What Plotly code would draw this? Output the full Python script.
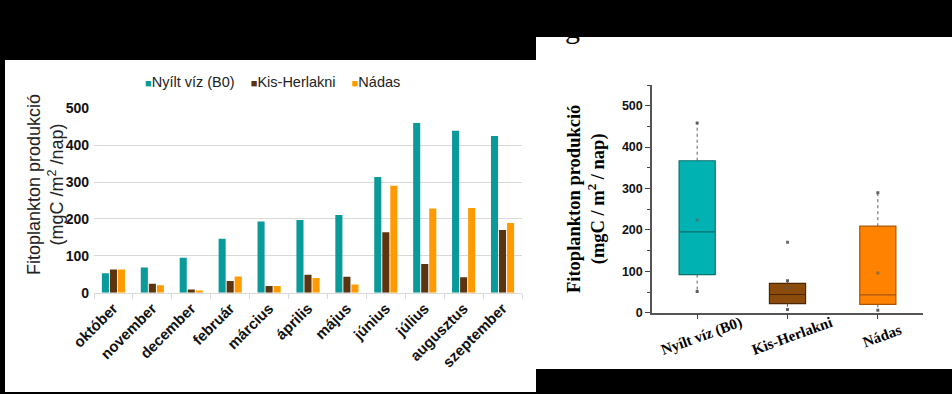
import plotly.graph_objects as go

# ---------------- data ----------------
months = ["október", "november", "december", "február", "március", "április",
          "május", "június", "július", "augusztus", "szeptember"]
series_names = ["Nyílt víz (B0)", "Kis-Herlakni", "Nádas"]
open_water = [53, 68, 95, 146, 193, 197, 211, 314, 460, 439, 425]
kis_herlakni = [63, 24, 9, 32, 18, 49, 43, 164, 78, 42, 170]
nadas = [63, 20, 6, 44, 18, 40, 22, 290, 228, 230, 189]
left_ticks = [0, 100, 200, 300, 400, 500]

box_categories = ["Nyílt víz (B0)", "Kis-Herlakni", "Nádas"]
box_q1 = [92, 22, 20]
box_median = [195, 44, 43]
box_q3 = [367, 71, 209]
box_low = [51, 8, 6]
box_high = [458, 77, 290]
box_mean = [224, 60, 96]
outlier_cat = ["Kis-Herlakni"]
outlier_val = [170]

# ---------------- styles ----------------
bar_colors = ["#0B9A9A", "#5C3410", "#FF9B00"]
box_fill = ["#00B2B2", "#8B4B0B", "#FF8300"]
box_line = ["#0A6F6F", "#4A2605", "#A85500"]
SANS = "Liberation Sans, Arial, sans-serif"
SERIF = "Liberation Serif, Times New Roman, serif"
W, H = 952, 394

def px(x):
    return x / W

def py(y):
    return 1 - y / H

fig = go.Figure()

# ---------- left: grouped bars ----------
for name, vals, col in zip(series_names, [open_water, kis_herlakni, nadas], bar_colors):
    fig.add_trace(go.Bar(x=months, y=vals, name=name, marker=dict(color=col, line=dict(width=0)),
                         xaxis="x", yaxis="y", showlegend=False))

# ---------- right: box plot ----------
for i, cat in enumerate(box_categories):
    fig.add_trace(go.Scatter(x=[cat, cat, None, cat, cat],
                             y=[box_q3[i], box_high[i], None, box_q1[i], box_low[i]],
                             mode="lines", line=dict(color="#606060", width=1, dash="dot"),
                             xaxis="x2", yaxis="y2", showlegend=False, hoverinfo="skip"))
    fig.add_trace(go.Scatter(x=[cat, cat], y=[box_high[i], box_low[i]], mode="markers",
                             marker=dict(symbol="square", size=3, color="#606060"),
                             xaxis="x2", yaxis="y2", showlegend=False, hoverinfo="skip"))
    fig.add_trace(go.Box(x=[cat], q1=[box_q1[i]], median=[box_median[i]], q3=[box_q3[i]],
                         lowerfence=[box_q1[i]], upperfence=[box_q3[i]],
                         fillcolor=box_fill[i], line=dict(color=box_line[i], width=1.2),
                         width=0.4, boxpoints=False, xaxis="x2", yaxis="y2",
                         showlegend=False, hoverinfo="skip"))

fig.add_trace(go.Scatter(x=box_categories, y=box_mean, mode="markers",
                         marker=dict(symbol="square", size=3, color="rgba(90,90,90,0.6)"),
                         xaxis="x2", yaxis="y2", showlegend=False, hoverinfo="skip"))
fig.add_trace(go.Scatter(x=outlier_cat, y=outlier_val, mode="markers",
                         marker=dict(symbol="square", size=3, color="#707070"),
                         xaxis="x2", yaxis="y2", showlegend=False, hoverinfo="skip"))

# ---------- legend (manual, compact) ----------
legend_parts = []
for name, col in zip(series_names, bar_colors):
    legend_parts.append('<span style="color:%s;font-size:11px">■</span>%s' % (col, name))
legend_text = "\u00a0\u00a0\u00a0\u00a0".join(legend_parts)

annotations = [
    dict(text=legend_text, x=px(272), y=py(82), xref="paper", yref="paper",
         xanchor="center", yanchor="middle", showarrow=False,
         font=dict(family=SANS, size=14.5, color="#222")),
    dict(text="Fitoplankton produkció<br>(mgC /m<sup>2</sup> /nap)", textangle=-90,
         x=px(45), y=py(185), xref="paper", yref="paper", xanchor="center", yanchor="middle",
         showarrow=False, font=dict(family=SANS, size=18, color="#222")),
    dict(text="<b>Fitoplankton produkció</b><br><b>(mgC / m<sup>2</sup> / nap)</b>", textangle=-90,
         x=px(586), y=py(199), xref="paper", yref="paper", xanchor="center", yanchor="middle",
         showarrow=False, font=dict(family=SERIF, size=18.5, color="#000")),
    dict(text="g", x=px(572), y=py(46), xref="paper", yref="paper", xanchor="center",
         yanchor="bottom", showarrow=False, font=dict(family=SERIF, size=30, color="#000")),
]
for cat in box_categories:
    annotations.append(dict(text="<b>%s</b>" % cat, x=cat, xref="x2", y=py(336), yref="paper",
                            xshift=4, textangle=-20, showarrow=False, xanchor="center",
                            yanchor="middle", font=dict(family=SERIF, size=15, color="#000")))

shapes = [
    dict(type="rect", xref="paper", yref="paper", x0=px(5), x1=px(536), y0=py(392), y1=py(60),
         fillcolor="white", line=dict(width=0), layer="below"),
    dict(type="rect", xref="paper", yref="paper", x0=px(536), x1=1, y0=py(369), y1=py(37),
         fillcolor="white", line=dict(width=0), layer="below"),
]

fig.update_layout(
    width=W, height=H, autosize=False,
    margin=dict(l=0, r=0, t=0, b=0, pad=0, autoexpand=False),
    paper_bgcolor="black", plot_bgcolor="white",
    barmode="group", bargap=0.38, bargroupgap=0.12,
    showlegend=False,
    shapes=shapes, annotations=annotations,
    xaxis=dict(domain=[px(94), px(522)], anchor="y", type="category", automargin=False,
               tickson="boundaries", ticks="outside", ticklen=5, tickcolor="#d9d9d9",
               showline=True, linecolor="#d9d9d9", linewidth=1, showgrid=False,
               tickangle=-45, tickfont=dict(family=SANS, size=15, color="#111", weight="bold")),
    yaxis=dict(domain=[py(292.7), py(108.3)], anchor="x", range=[0, 500], automargin=False,
               tickvals=left_ticks, ticktext=[str(t) for t in left_ticks],
               showgrid=True, gridcolor="#d9d9d9", gridwidth=1, zeroline=False,
               showline=False, ticks="", ticklabelstandoff=4,
               tickfont=dict(family=SANS, size=14, color="#111", weight="bold")),
    xaxis2=dict(domain=[px(652), px(923)], anchor="y2", type="category", automargin=False,
                range=[-0.5, 2.5], showticklabels=False, ticks="outside", ticklen=5,
                tickcolor="#444", showline=True, linecolor="#555", linewidth=1.5,
                showgrid=False, zeroline=False),
    yaxis2=dict(domain=[py(312.7), py(85)], anchor="x2", range=[0, 550], automargin=False,
                dtick=100, tick0=0, ticks="outside", ticklen=5, tickcolor="#444",
                showline=True, linecolor="#555", linewidth=1.5, showgrid=False, zeroline=False,
                minor=dict(ticks="outside", ticklen=3, dtick=50, tickcolor="#444"),
                tickfont=dict(family=SANS, size=12.5, color="#111", weight="bold")),
)

fig.write_html("out.html", config={"responsive": False, "displayModeBar": False},
               post_script="document.body.style.margin='0';document.body.style.overflow='hidden';")
